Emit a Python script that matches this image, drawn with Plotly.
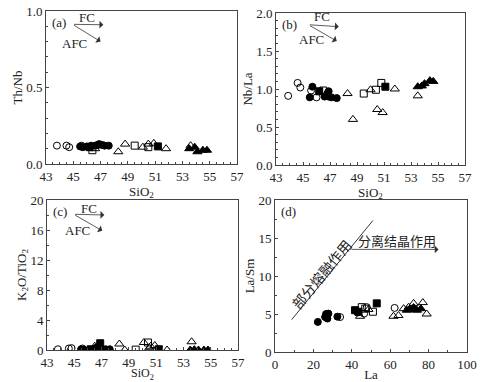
import plotly.graph_objects as go

# ---------------- data ----------------
# Panel (a): SiO2 vs Th/Nb
a_oc_x = [43.8, 44.5, 44.7, 45.6]
a_oc_y = [0.12, 0.12, 0.11, 0.12]
a_fc_x = [45.5, 45.7, 46.0, 46.3, 46.6, 46.8, 46.9, 47.1, 47.3, 47.6]
a_fc_y = [0.115, 0.11, 0.115, 0.12, 0.12, 0.125, 0.13, 0.125, 0.12, 0.12]
a_os_x = [46.4, 49.5, 50.5]
a_os_y = [0.09, 0.12, 0.11]
a_fs_x = [46.2, 51.2]
a_fs_y = [0.11, 0.115]
a_ot_x = [46.6, 48.3, 48.8, 50.1, 50.5, 50.9, 51.8, 53.6]
a_ot_y = [0.10, 0.08, 0.13, 0.11, 0.13, 0.135, 0.10, 0.12]
a_ft_x = [53.5, 53.9, 54.1, 54.5, 54.8]
a_ft_y = [0.10, 0.11, 0.08, 0.09, 0.09]

# Panel (b): SiO2 vs Nb/La
b_oc_x = [43.9, 44.6, 44.8, 45.6, 46.0]
b_oc_y = [0.91, 1.08, 1.02, 0.98, 0.89]
b_fc_x = [45.5, 45.7, 46.6, 46.8, 46.9, 46.9, 47.1, 47.5]
b_fc_y = [0.89, 1.03, 0.90, 0.94, 0.90, 0.97, 0.89, 0.88]
b_os_x = [46.5, 49.5, 50.4, 50.8]
b_os_y = [0.98, 0.94, 0.99, 1.08]
b_fs_x = [46.2, 51.1]
b_fs_y = [0.97, 1.03]
b_ot_x = [48.3, 48.7, 50.0, 50.5, 50.9, 51.8, 53.5]
b_ot_y = [0.94, 0.60, 0.99, 0.73, 0.69, 1.00, 0.91]
b_ft_x = [53.5, 53.8, 54.0, 54.4, 54.65]
b_ft_y = [1.03, 1.04, 1.07, 1.11, 1.10]

# Panel (c): SiO2 vs K2O/TiO2
c_oc_x = [43.8, 44.6, 44.8, 45.6]
c_oc_y = [0.1, 0.2, 0.25, 0.2]
c_fc_x = [45.5, 45.7, 46.6, 46.8, 47.0, 47.3, 47.6]
c_fc_y = [0.1, 0.05, 0.3, 0.45, 0.1, 0.1, 0.1]
c_os_x = [49.5, 50.4]
c_os_y = [0.05, 1.0]
c_fs_x = [46.2, 46.9, 51.2]
c_fs_y = [0.1, 0.9, 0.1]
c_ot_x = [46.5, 48.3, 48.7, 50.1, 50.5, 50.6, 50.9, 51.8, 53.6]
c_ot_y = [0.5, 0.8, 0.0, 1.0, 0.3, 0.5, 0.6, 0.0, 1.1]
c_ft_x = [53.5, 53.8, 54.1, 54.5, 54.8]
c_ft_y = [0.0, 0.05, 0.0, 0.0, 0.0]

# Panel (d): La vs La/Sm
d_oc_x = [33.9, 46.4, 47.8, 62.3]
d_oc_y = [4.6, 5.05, 5.9, 5.8]
d_fc_x = [22.3, 26.1, 26.6, 27.3, 27.8, 32.5, 43.0]
d_fc_y = [3.96, 4.6, 5.0, 4.4, 5.05, 4.65, 5.2]
d_os_x = [45.2, 47.0, 51.0]
d_os_y = [5.9, 5.7, 5.3]
d_fs_x = [41.7, 43.5, 53.0]
d_fs_y = [5.5, 5.3, 6.4]
d_ot_x = [44.3, 48.7, 61.7, 64.3, 67.0, 69.6, 72.2, 77.0, 79.0]
d_ot_y = [4.7, 5.6, 4.7, 4.8, 5.7, 5.9, 6.4, 6.5, 5.0]
d_ft_x = [68.7, 70.0, 72.2, 73.9, 76.0]
d_ft_y = [5.5, 5.6, 5.85, 5.5, 5.7]

# trend lines / arrows
pm_line_x = [8.7, 51.0]          # partial melting trend
pm_line_y = [4.26, 17.3]
fcr_arrow_x = [39.1, 85.2]       # fractional crystallisation arrow
fcr_arrow_y = [13.5, 13.5]

fc_arrows = {  # panel: (start x, start y, FC end x, FC end y, AFC end x, AFC end y)
    "a": (44.95, 0.913, 47.2, 0.91, 47.0, 0.80),
    "b": (45.4, 1.846, 47.65, 1.82, 47.5, 1.63),
    "c": (44.95, 18.1, 47.2, 18.0, 47.05, 15.9),
}
fc_text = {  # panel: (FC x, FC y, AFC x, AFC y)
    "a": (46.0, 0.955, 45.1, 0.79),
    "b": (46.4, 1.95, 45.6, 1.65),
    "c": (46.1, 18.9, 45.2, 16.0),
}

# ---------------- figure ----------------
SERIF = "Liberation Serif"
CJK = "Noto Sans CJK SC"
INK = "#222222"

fig = go.Figure()

def add_groups(xr, yr, groups):
    styles = {
        "oc": dict(symbol="circle-open", size=7),
        "fc": dict(symbol="circle", size=7),
        "os": dict(symbol="square-open", size=7),
        "fs": dict(symbol="square", size=7),
        "ot": dict(symbol="triangle-up-open", size=8),
        "ft": dict(symbol="triangle-up", size=8),
    }
    for key, (xs, ys) in groups.items():
        st = styles[key]
        fig.add_trace(go.Scatter(
            x=xs, y=ys, mode="markers", xaxis=xr, yaxis=yr,
            marker=dict(symbol=st["symbol"], size=st["size"], color="black",
                        line=dict(color="black", width=1)),
            showlegend=False, hoverinfo="skip"))

add_groups("x", "y", {"oc": (a_oc_x, a_oc_y), "fc": (a_fc_x, a_fc_y), "os": (a_os_x, a_os_y),
                      "fs": (a_fs_x, a_fs_y), "ot": (a_ot_x, a_ot_y), "ft": (a_ft_x, a_ft_y)})
add_groups("x2", "y2", {"oc": (b_oc_x, b_oc_y), "fc": (b_fc_x, b_fc_y), "os": (b_os_x, b_os_y),
                        "fs": (b_fs_x, b_fs_y), "ot": (b_ot_x, b_ot_y), "ft": (b_ft_x, b_ft_y)})
add_groups("x3", "y3", {"oc": (c_oc_x, c_oc_y), "fc": (c_fc_x, c_fc_y), "os": (c_os_x, c_os_y),
                        "fs": (c_fs_x, c_fs_y), "ot": (c_ot_x, c_ot_y), "ft": (c_ft_x, c_ft_y)})
add_groups("x4", "y4", {"oc": (d_oc_x, d_oc_y), "fc": (d_fc_x, d_fc_y), "os": (d_os_x, d_os_y),
                        "fs": (d_fs_x, d_fs_y), "ot": (d_ot_x, d_ot_y), "ft": (d_ft_x, d_ft_y)})

fig.add_trace(go.Scatter(x=pm_line_x, y=pm_line_y, mode="lines", xaxis="x4", yaxis="y4",
                         line=dict(color="black", width=0.8), showlegend=False, hoverinfo="skip"))

def axis(domain, rng, dtick, minor, title, anchor, fmt=None, standoff=0, tsize=13):
    d = dict(
        domain=domain, range=rng, dtick=dtick, tick0=rng[0], anchor=anchor,
        showline=True, linecolor="#444", linewidth=1, mirror=True,
        ticks="inside", ticklen=3, tickcolor="#444",
        minor=dict(dtick=minor, ticks="inside", ticklen=2, tickcolor="#444"),
        showgrid=False, zeroline=False,
        tickfont=dict(family=SERIF, size=13, color=INK),
        title=dict(text=title, font=dict(family=SERIF, size=tsize, color=INK), standoff=standoff),
        automargin=False,
    )
    if fmt:
        d["tickformat"] = fmt
    return d

W, H = 481, 382
xa = [46 / W, 237 / W]
xb = [276 / W, 465 / W]
xc = [47 / W, 238 / W]
xd = [275 / W, 467 / W]
ya = [1 - 164 / H, 1 - 11 / H]
yb = [1 - 165 / H, 1 - 13 / H]
yc = [1 - 350 / H, 1 - 200 / H]
yd = [1 - 352 / H, 1 - 200 / H]

fig.update_layout(
    width=W, height=H, margin=dict(l=0, r=0, t=0, b=0),
    paper_bgcolor="white", plot_bgcolor="white", showlegend=False,
    xaxis=axis(xa, [43, 57], 2, 0.5, "SiO<sub>2</sub>", "y", standoff=2),
    yaxis=axis(ya, [0, 1], 0.5, 0.1, "Th/Nb", "x", ".1f"),
    xaxis2=axis(xb, [43, 57], 2, 0.5, "SiO<sub>2</sub>", "y2", standoff=2),
    yaxis2=axis(yb, [0, 2], 0.5, 0.1, "Nb/La", "x2", ".1f"),
    xaxis3=axis(xc, [43, 57], 2, 0.5, "SiO<sub>2</sub>", "y3", standoff=4, tsize=12),
    yaxis3=axis(yc, [0, 20], 4, 2, "K<sub>2</sub>O/TiO<sub>2</sub>", "x3"),
    xaxis4=axis(xd, [0, 100], 20, 10, "La", "y4", standoff=2),
    yaxis4=axis(yd, [0, 20], 5, 2.5, "La/Sm", "x4"),
)

ann = []
for lab, xr, yr in [("(a)", "x", "y"), ("(b)", "x2", "y2"), ("(c)", "x3", "y3"), ("(d)", "x4", "y4")]:
    ann.append(dict(text=lab, xref=f"{xr} domain", yref=f"{yr} domain", x=0.02, y=0.99,
                    xanchor="left", yanchor="top", showarrow=False,
                    font=dict(family=SERIF, size=13, color=INK)))

for p, xr, yr in [("a", "x", "y"), ("b", "x2", "y2"), ("c", "x3", "y3")]:
    sx, sy, fx, fy, ax_, ay_ = fc_arrows[p]
    for ex, ey in [(fx, fy), (ax_, ay_)]:
        ann.append(dict(x=ex, y=ey, ax=sx, ay=sy, xref=xr, yref=yr, axref=xr, ayref=yr,
                        text="", showarrow=True, arrowhead=1, arrowsize=1.6, arrowwidth=0.8,
                        arrowcolor="#333"))
    tx, ty, tx2, ty2 = fc_text[p]
    ann.append(dict(x=tx, y=ty, xref=xr, yref=yr, text="FC", showarrow=False,
                    font=dict(family=SERIF, size=13, color=INK)))
    ann.append(dict(x=tx2, y=ty2, xref=xr, yref=yr, text="AFC", showarrow=False,
                    font=dict(family=SERIF, size=13, color=INK)))

# panel (d) text and arrow
ann.append(dict(x=fcr_arrow_x[1], y=fcr_arrow_y[1], ax=fcr_arrow_x[0], ay=fcr_arrow_y[0],
                xref="x4", yref="y4", axref="x4", ayref="y4", text="", showarrow=True,
                arrowhead=1, arrowsize=1.6, arrowwidth=0.8, arrowcolor="#333"))
ann.append(dict(x=63.3, y=14.7, xref="x4", yref="y4", text="分离结晶作用", showarrow=False,
                font=dict(family=CJK, size=13, color=INK)))
ann.append(dict(x=24.0, y=10.3, xref="x4", yref="y4", text="部分熔融作用", showarrow=False,
                textangle=-50.6, font=dict(family=CJK, size=14, color=INK)))

fig.update_layout(annotations=ann)
fig.write_html("out.html", config={"displayModeBar": False},
               post_script="document.body.style.margin='0';")
